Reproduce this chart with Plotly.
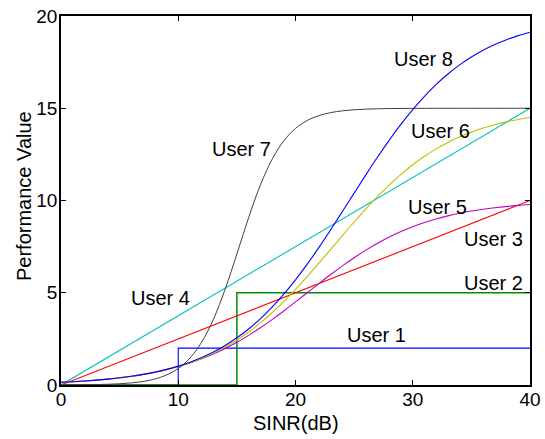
import plotly.graph_objects as go

# SINR grid (dB) for the smooth utility curves
sinr_db = list(range(0, 41))

# Step utilities
user1_x = [0, 10, 10, 40]
user1_y = [0, 0, 2, 2]
user2_x = [0, 15, 15, 40]
user2_y = [0, 0, 5, 5]

# Linear utilities
user3_x = [0, 40]
user3_y = [0, 10]
user4_x = [0, 40]
user4_y = [0, 15]

# Sigmoid-like utilities, one value per dB
user5_y = [0.148, 0.180, 0.219, 0.266, 0.323, 0.392, 0.474, 0.573, 0.691, 0.832,
           0.998, 1.192, 1.418, 1.680, 1.978, 2.315, 2.689, 3.100, 3.543, 4.013,
           4.502, 5.000, 5.498, 5.987, 6.457, 6.900, 7.311, 7.685, 8.022, 8.320,
           8.582, 8.808, 9.002, 9.168, 9.309, 9.427, 9.526, 9.608, 9.677, 9.734,
           9.781]
user6_y = [0.144, 0.175, 0.213, 0.259, 0.316, 0.384, 0.466, 0.565, 0.685, 0.828,
           0.999, 1.203, 1.443, 1.726, 2.056, 2.437, 2.873, 3.366, 3.917, 4.523,
           5.179, 5.875, 6.605, 7.349, 8.099, 8.835, 9.547, 10.220, 10.847, 11.420,
           11.937, 12.396, 12.799, 13.148, 13.449, 13.706, 13.924, 14.107, 14.261, 14.390,
           14.497]
user7_y = [0.005, 0.008, 0.014, 0.023, 0.040, 0.067, 0.114, 0.192, 0.323, 0.541,
           0.896, 1.462, 2.325, 3.564, 5.192, 7.102, 9.067, 10.829, 12.228, 13.233,
           13.908, 14.337, 14.603, 14.764, 14.860, 14.917, 14.951, 14.971, 14.983, 14.990,
           14.994, 14.996, 14.998, 14.999, 14.999, 15.000, 15.000, 15.000, 15.000, 15.000,
           15.000]
user8_y = [0.145, 0.177, 0.215, 0.263, 0.320, 0.389, 0.473, 0.575, 0.698, 0.846,
           1.024, 1.236, 1.489, 1.789, 2.143, 2.557, 3.037, 3.589, 4.217, 4.920,
           5.699, 6.548, 7.457, 8.414, 9.400, 10.400, 11.390, 12.355, 13.275, 14.139,
           14.930, 15.649, 16.293, 16.858, 17.352, 17.779, 18.144, 18.455, 18.716, 18.937,
           19.121]

x_ticks = [0, 10, 20, 30, 40]
y_ticks = [0, 5, 10, 15, 20]

# Classic MATLAB colour order
BLUE = "rgb(0,0,255)"
GREEN = "rgb(0,140,0)"
RED = "rgb(255,0,0)"
CYAN = "rgb(0,191,191)"
MAGENTA = "rgb(191,0,191)"
OLIVE = "rgb(191,191,0)"
DARK = "rgb(64,64,64)"

FONT = "Liberation Sans, Arial, sans-serif"

fig = go.Figure()

series = [
    ("User 1", user1_x, user1_y, BLUE, "linear", 1.1),
    ("User 2", user2_x, user2_y, GREEN, "linear", 1.5),
    ("User 3", user3_x, user3_y, RED, "linear", 1.1),
    ("User 4", user4_x, user4_y, CYAN, "linear", 1.1),
    ("User 5", sinr_db, user5_y, MAGENTA, "spline", 1.1),
    ("User 6", sinr_db, user6_y, OLIVE, "spline", 1.1),
    ("User 7", sinr_db, user7_y, DARK, "spline", 1.0),
    ("User 8", sinr_db, user8_y, BLUE, "spline", 1.1),
]
for name, xs, ys, color, shape, width in series:
    fig.add_trace(go.Scatter(
        x=xs, y=ys, mode="lines", name=name,
        line=dict(color=color, width=width, shape=shape),
        showlegend=False,
    ))

# In-plot curve labels
labels = [
    ("User 1", 26.9, 2.7),
    ("User 2", 36.85, 5.55),
    ("User 3", 36.85, 7.9),
    ("User 4", 8.5, 4.7),
    ("User 5", 32.1, 9.65),
    ("User 6", 32.35, 13.75),
    ("User 7", 15.4, 12.8),
    ("User 8", 30.9, 17.65),
]
for text, lx, ly in labels:
    fig.add_annotation(
        x=lx, y=ly, text=text, showarrow=False,
        xanchor="center", yanchor="middle",
        font=dict(family=FONT, size=20, color="black"),
    )

# Axis titles placed in paper coordinates
fig.add_annotation(
    x=0.5, y=-0.103, xref="paper", yref="paper", text="SINR(dB)",
    showarrow=False, xanchor="center", yanchor="middle",
    font=dict(family=FONT, size=20, color="black"),
)
fig.add_annotation(
    x=-0.079, y=0.512, xref="paper", yref="paper", text="Performance Value",
    showarrow=False, xanchor="center", yanchor="middle", textangle=-90,
    font=dict(family=FONT, size=20, color="black"),
)

axis_common = dict(
    showgrid=False, zeroline=False, automargin=False,
    showline=True, linecolor="black", linewidth=1.5, mirror="allticks",
    ticks="inside", ticklen=5, tickwidth=1, tickcolor="black",
    tickfont=dict(family=FONT, size=19, color="black"),
)

fig.update_xaxes(range=[0, 40], tickvals=x_ticks, ticklabelstandoff=-4, **axis_common)
fig.update_yaxes(range=[0, 20], tickvals=y_ticks, ticklabelstandoff=-2, **axis_common)

fig.update_layout(
    width=545, height=439,
    margin=dict(l=61, r=15, t=16, b=54),
    paper_bgcolor="white", plot_bgcolor="white",
)

fig.write_html("out.html")
